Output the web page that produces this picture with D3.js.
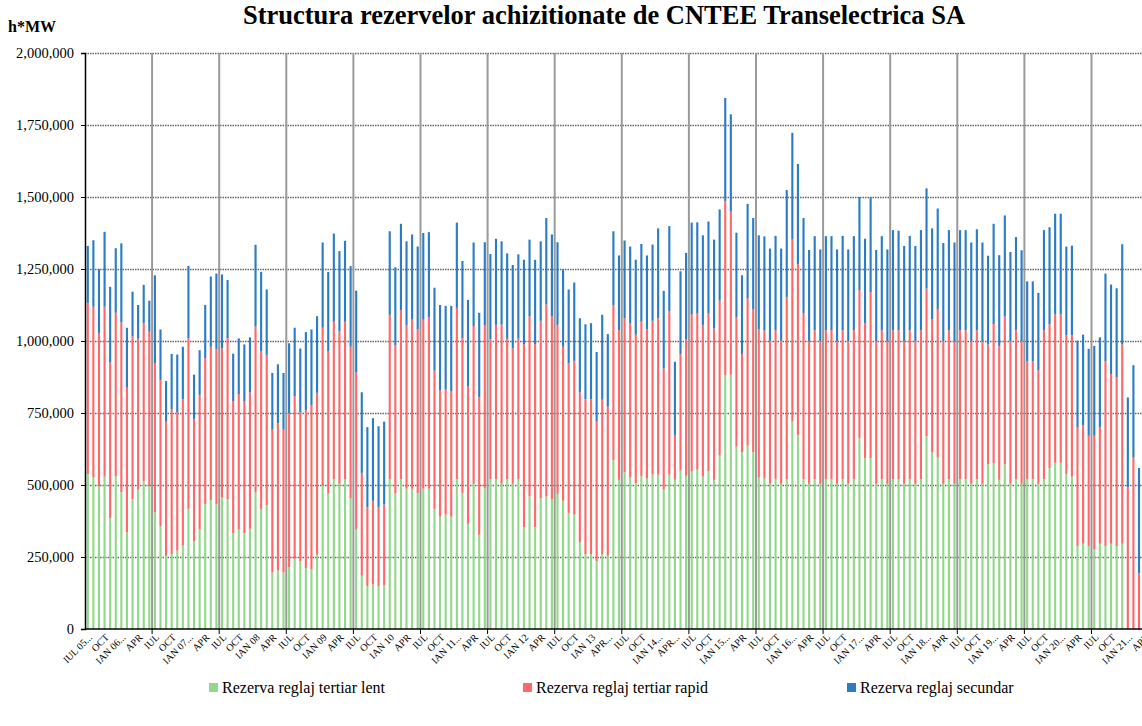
<!DOCTYPE html>
<html>
<head>
<meta charset="utf-8">
<script src="https://cdn.jsdelivr.net/npm/d3@7"></script>
<style>
  body { margin: 0; background: #fff; }
  svg { display: block; font-family: "Liberation Serif", "Times New Roman", serif; }
</style>
</head>
<body>
<div id="chart"></div>
<script>
// --- Data (thousands of h*MW), one value per month, Jul 2005 .. Apr 2021 ---

var lent = [
  538, 526, 496, 529, 385, 530, 475, 336, 451, 484, 514, 496,
  405, 357, 254, 260, 272, 290, 417, 305, 346, 433, 448, 432,
  457, 450, 333, 345, 333, 348, 475, 417, 429, 196, 203, 196,
  215, 244, 236, 212, 208, 258, 498, 472, 520, 504, 520, 454,
  345, 185, 149, 155, 149, 151, 520, 472, 520, 487, 487, 472,
  487, 487, 417, 390, 397, 390, 520, 472, 365, 504, 327, 490,
  520, 520, 504, 520, 504, 520, 353, 460, 353, 454, 460, 451,
  469, 445, 403, 397, 302, 260, 260, 236, 260, 254, 587, 518,
  544, 526, 506, 530, 522, 536, 536, 484, 536, 518, 550, 532,
  547, 553, 529, 548, 518, 602, 880, 883, 633, 614, 637, 614,
  526, 522, 504, 520, 504, 520, 720, 674, 520, 504, 520, 504,
  520, 520, 504, 520, 504, 520, 662, 593, 593, 504, 520, 504,
  520, 520, 504, 520, 504, 520, 669, 613, 595, 504, 520, 504,
  520, 520, 504, 520, 504, 572, 575, 518, 572, 504, 520, 504,
  520, 520, 504, 520, 559, 577, 577, 538, 529, 288, 296, 288,
  276, 296, 288, 296, 288, 296, 0, 0, 0, 0
];

var rapid = [
  593, 593, 532, 590, 540, 568, 589, 502, 565, 524, 547, 536,
  517, 508, 466, 504, 480, 508, 593, 423, 467, 508, 532, 539,
  517, 560, 457, 471, 457, 474, 575, 548, 523, 496, 511, 496,
  535, 564, 516, 548, 570, 562, 548, 493, 547, 530, 547, 526,
  546, 357, 274, 290, 274, 281, 571, 514, 587, 569, 587, 568,
  587, 595, 480, 439, 435, 436, 595, 538, 478, 548, 477, 565,
  486, 536, 553, 488, 470, 488, 636, 625, 636, 616, 667, 634,
  587, 535, 520, 534, 520, 538, 538, 484, 536, 518, 538, 520,
  535, 535, 516, 537, 518, 534, 543, 420, 567, 156, 405, 475,
  545, 542, 527, 547, 525, 538, 605, 568, 450, 341, 510, 495,
  514, 514, 497, 517, 497, 633, 632, 593, 577, 496, 517, 496,
  517, 517, 496, 517, 496, 517, 515, 468, 577, 496, 517, 496,
  517, 517, 496, 517, 496, 517, 513, 463, 514, 496, 517, 496,
  517, 517, 496, 517, 496, 416, 484, 464, 513, 496, 517, 496,
  409, 409, 395, 517, 499, 515, 515, 482, 491, 411, 411, 383,
  395, 405, 641, 589, 585, 692, 492, 595, 194, 450
];

var secundar = [
  199, 231, 221, 260, 263, 224, 275, 208, 155, 117, 134, 108,
  306, 175, 141, 191, 201, 182, 251, 155, 155, 184, 244, 263,
  257, 202, 166, 193, 198, 191, 284, 275, 227, 197, 205, 197,
  242, 238, 222, 271, 262, 266, 296, 275, 306, 278, 281, 280,
  284, 280, 278, 287, 281, 288, 290, 270, 300, 290, 296, 288,
  301, 296, 288, 296, 290, 296, 296, 268, 300, 290, 294, 288,
  296, 299, 289, 296, 290, 293, 293, 267, 293, 276, 300, 285,
  287, 269, 256, 272, 257, 260, 264, 242, 295, 252, 256, 259,
  270, 267, 260, 270, 257, 265, 312, 270, 296, 254, 287, 299,
  319, 317, 311, 320, 309, 317, 359, 336, 293, 273, 329, 318,
  327, 327, 320, 328, 320, 371, 371, 348, 330, 316, 327, 318,
  327, 327, 318, 328, 318, 327, 323, 294, 330, 316, 327, 318,
  348, 346, 330, 328, 330, 348, 348, 315, 351, 340, 348, 342,
  348, 348, 342, 351, 342, 308, 348, 316, 351, 309, 324, 315,
  278, 278, 268, 348, 337, 350, 350, 308, 311, 302, 315, 302,
  312, 312, 305, 311, 310, 348, 312, 321, 365, 320
];

// tick labels, one every 3 months
var tickLabels = [
  "IUL 05...", "OCT", "IAN 06...", "APR", "IUL", "OCT", "IAN 07...", "APR",
  "IUL", "OCT", "IAN 08", "APR", "IUL", "OCT", "IAN 09", "APR",
  "IUL", "OCT", "IAN 10", "APR", "IUL", "OCT", "IAN 11...", "APR",
  "IUL", "OCT", "IAN 12", "APR", "IUL", "OCT", "IAN 13", "APR...",
  "IUL", "OCT", "IAN 14...", "APR...", "IUL", "OCT", "IAN 15...", "APR",
  "IUL", "OCT", "IAN 16...", "APR", "IUL", "OCT", "IAN 17...", "APR",
  "IUL", "OCT", "IAN 18...", "APR", "IUL", "OCT", "IAN 19...", "APR",
  "IUL", "OCT", "IAN 20...", "APR", "IUL", "OCT", "IAN 21...", "APR"
];

var yTicks = [0, 250000, 500000, 750000, 1000000, 1250000, 1500000, 1750000, 2000000];

var seriesNames = ["Rezerva reglaj tertiar lent", "Rezerva reglaj tertiar rapid", "Rezerva reglaj secundar"];
var colors = ["#92d88a", "#ff6868", "#2a7cc4"];

// --- Layout ---
const w = 1142;
const h = 726;
const x0 = 85, x1 = 1147.4;   // plot runs slightly past the right edge
const yTop = 53, yBottom = 629;

var n = lent.length;
var table = d3.range(n).map(function (i) {
  return { i: i, lent: lent[i] * 1000, rapid: rapid[i] * 1000, secundar: secundar[i] * 1000 };
});

var stack = d3.stack().keys(["lent", "rapid", "secundar"]);
var layers = stack(table);

var xScale = d3.scaleBand()
  .domain(d3.range(n))
  .range([x0, x1])
  .paddingInner(0.62)
  .paddingOuter(0.31);

var yScale = d3.scaleLinear()
  .domain([0, 2000000])
  .range([yBottom, yTop]);

var svg = d3.select("#chart")
  .append("svg")
  .attr("width", w)
  .attr("height", h);

// horizontal gridlines
svg.append("g")
  .selectAll("line")
  .data(yTicks.filter(function (d) { return d > 0; }))
  .enter()
  .append("line")
  .attr("x1", x0)
  .attr("x2", w)
  .attr("y1", function (d) { return yScale(d) + 0.5; })
  .attr("y2", function (d) { return yScale(d) + 0.5; })
  .attr("stroke", "#666")
  .attr("stroke-width", 1.3)
  .attr("stroke-dasharray", "1.5,1");

// vertical separators at each July
var step = xScale.step();
var yearStarts = d3.range(12, n, 12);
svg.append("g")
  .selectAll("line")
  .data(yearStarts)
  .enter()
  .append("line")
  .attr("x1", function (d) { return xScale(d) - step * 0.31; })
  .attr("x2", function (d) { return xScale(d) - step * 0.31; })
  .attr("y1", yTop)
  .attr("y2", yBottom)
  .attr("stroke", "#9a9a9a")
  .attr("stroke-width", 2);

// stacked bars
svg.append("g")
  .selectAll("g")
  .data(layers)
  .enter()
  .append("g")
  .attr("fill", function (d, k) { return colors[k]; })
  .selectAll("rect")
  .data(function (d) { return d; })
  .enter()
  .append("rect")
  .attr("x", function (d) { return xScale(d.data.i); })
  .attr("y", function (d) { return yScale(d[1]); })
  .attr("width", xScale.bandwidth())
  .attr("height", function (d) { return Math.max(0, yScale(d[0]) - yScale(d[1])); });

// y axis
var yAxis = d3.axisLeft(yScale)
  .tickValues(yTicks)
  .tickSize(4)
  .tickFormat(d3.format(","));
var gy = svg.append("g")
  .attr("transform", "translate(" + x0 + ",0)")
  .call(yAxis);
gy.select(".domain").attr("stroke", "#000").attr("stroke-width", 1.5);
gy.selectAll("text")
  .attr("font-family", "Liberation Serif, serif")
  .attr("font-size", "14.5px")
  .attr("fill", "#000")
  .attr("dx", "-4");

// x axis line and year ticks
svg.append("line")
  .attr("x1", x0).attr("x2", w)
  .attr("y1", yBottom).attr("y2", yBottom)
  .attr("stroke", "#000").attr("stroke-width", 1.5);

svg.append("g")
  .selectAll("line")
  .data(yearStarts)
  .enter()
  .append("line")
  .attr("x1", function (d) { return xScale(d) - step * 0.31; })
  .attr("x2", function (d) { return xScale(d) - step * 0.31; })
  .attr("y1", yBottom)
  .attr("y2", yBottom + 5)
  .attr("stroke", "#000");

// x tick labels
svg.append("g")
  .selectAll("text")
  .data(tickLabels)
  .enter()
  .append("text")
  .attr("transform", function (d, k) {
    var cx = xScale(k * 3) + xScale.bandwidth() / 2 + 5;
    return "translate(" + cx + "," + (yBottom + 9) + ") rotate(-45)";
  })
  .attr("text-anchor", "end")
  .attr("font-size", "10px")
  .attr("fill", "#000")
  .text(function (d) { return d; });

// title and unit
svg.append("text")
  .attr("x", 604)
  .attr("y", 24)
  .attr("text-anchor", "middle")
  .attr("font-size", "26.5px")
  .attr("font-weight", "bold")
  .text("Structura rezervelor achizitionate de CNTEE Transelectrica SA");

svg.append("text")
  .attr("x", 8)
  .attr("y", 32)
  .attr("font-size", "16px")
  .attr("font-weight", "bold")
  .text("h*MW");

// legend
var legendX = [209, 523, 847];
var legend = svg.append("g")
  .selectAll("g")
  .data(seriesNames)
  .enter()
  .append("g")
  .attr("transform", function (d, k) { return "translate(" + legendX[k] + ",683)"; });

legend.append("rect")
  .attr("width", 9)
  .attr("height", 9)
  .attr("fill", function (d, k) { return colors[k]; });

legend.append("text")
  .attr("x", 13)
  .attr("y", 10)
  .attr("font-size", "16px")
  .text(function (d) { return d; });
</script>
</body>
</html>
